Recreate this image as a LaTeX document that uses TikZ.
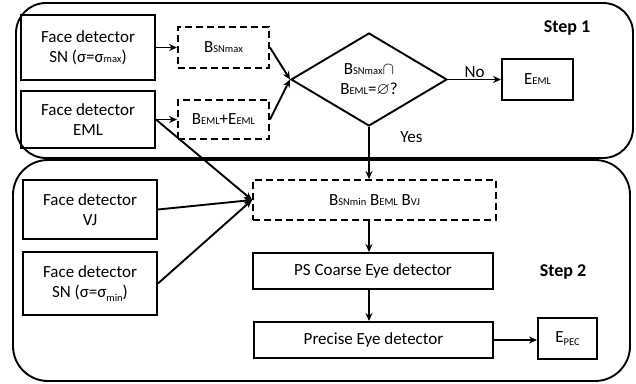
\documentclass[tikz,border=0pt]{standalone}
\usepackage{amssymb}
\usepackage{fontspec}
\setmainfont{Carlito}
\usetikzlibrary{shapes.geometric,arrows.meta}
\newcommand{\sbs}[1]{{\fontsize{10.5}{10}\selectfont #1}}
\newcommand{\lsb}[1]{\raisebox{-3.5pt}{\fontsize{10.5}{10}\selectfont #1}}
\begin{document}
\begin{tikzpicture}[x=1pt,y=-1pt,
  every node/.style={font=\fontsize{17}{20}\selectfont},
  box/.style={draw, line width=1.9pt, inner sep=0pt, align=center},
  dbox/.style={box, dash pattern=on 7pt off 4pt},
  group/.style={draw, line width=1.9pt},
  arr/.style={line width=1.9pt, -{Stealth[length=8pt,width=7pt]}},
  steplabel/.style={font=\fontsize{18}{20}\selectfont\bfseries}]
\useasboundingbox (0,0) rectangle (636,383);
% groups
\draw[group, rounded corners=30pt] (16,3) rectangle (633,158);
\draw[group, rounded corners=35pt] (13,160) rectangle (630,381);
% step 1
\node[box, minimum width=134pt, minimum height=65pt] (snmax) at (88,47.5) {Face detector\\SN (σ=σ\sbs{max})};
\node[box, minimum width=134pt, minimum height=57pt] (eml) at (88,119.5) {Face detector\\EML};
\node[dbox, minimum width=91pt, minimum height=41pt] (bsnmax) at (223.5,47.5) {B\sbs{SNmax}};
\node[dbox, minimum width=91pt, minimum height=39pt] (beml) at (223.5,119.5) {B\sbs{EML}+E\sbs{EML}};
\node[draw, line width=1.9pt, shape=diamond, minimum width=156pt, minimum height=93pt, inner sep=0pt, align=center] (dec) at (369,79.5) {B\sbs{SNmax}$\cap$\\B\sbs{EML}=$\varnothing$?};
\node[box, minimum width=71pt, minimum height=41pt] (eeml) at (537.5,79.5) {E\sbs{EML}};
\node[steplabel] (s1) at (567,28) {Step 1};
% step 2
\node[dbox, minimum width=243pt, minimum height=40pt] (bmin) at (374.5,200) {B\sbs{SNmin} B\sbs{EML} B\sbs{VJ}};
\node[box, minimum width=134pt, minimum height=59pt] (vj) at (90,209.5) {Face detector\\VJ};
\node[box, minimum width=134pt, minimum height=63pt] (snmin) at (90,283.5) {Face detector\\SN (σ=σ\lsb{min})};
\node[box, minimum width=240pt, minimum height=36pt] (ps) at (373,271) {PS Coarse Eye detector};
\node[box, minimum width=239pt, minimum height=36pt] (pe) at (373.5,340) {Precise Eye detector};
\node[box, minimum width=59pt, minimum height=41pt] (epec) at (567.5,338.5) {E\lsb{PEC}};
\node[steplabel] (s2) at (563,272) {Step 2};
% connectors
\draw[arr] (snmax.east) -- (bsnmax.west);
\draw[arr] (eml.east) -- (beml.west);
\draw[arr] (bsnmax.east) -- (dec.west);
\draw[arr] (beml.east) -- (dec.west);
\draw[arr] (dec.east) -- node[above, pos=0.5, yshift=-2pt] (no) {No} (eeml.west);
\draw[arr] (dec.south) -- node[right, pos=0.2, xshift=27pt] (yes) {Yes} (dec.south |- bmin.north);
\draw[arr] (eml.east) -- (bmin.west);
\draw[arr] (vj.east) -- (bmin.west);
\draw[arr] (snmin.east) -- (bmin.west);
\draw[arr] (dec.south |- bmin.south) -- (dec.south |- ps.north);
\draw[arr] (dec.south |- ps.south) -- (dec.south |- pe.north);
\draw[arr] (pe.east) -- (pe.east -| epec.west);
\end{tikzpicture}
\end{document}
